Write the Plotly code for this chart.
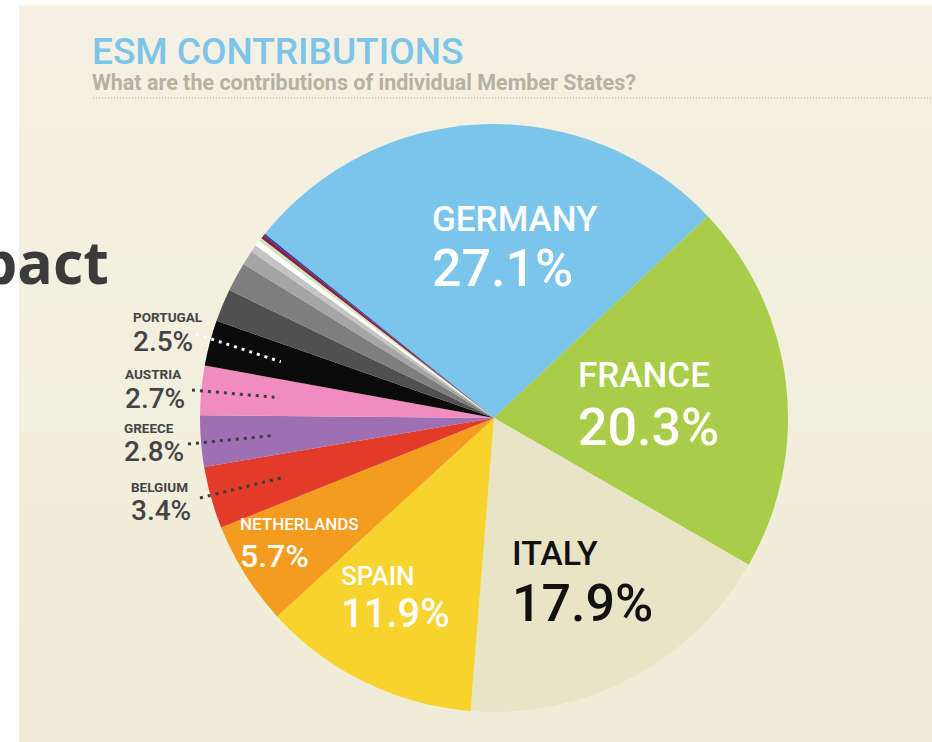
import math
import plotly.graph_objects as go

# ---------------- data ----------------
countries = ["Germany", "France", "Italy", "Spain", "Netherlands", "Belgium",
             "Greece", "Austria", "Portugal", "Finland", "Ireland", "Slovakia",
             "Slovenia", "Luxembourg", "Cyprus", "Estonia", "Malta"]
shares = [27.1, 20.3, 17.9, 11.9, 5.7, 3.4, 2.8, 2.7, 2.5, 1.8, 1.6, 0.8,
          0.4, 0.3, 0.2, 0.2, 0.1]
slice_colors = ["#7bc4ea", "#a9cd48", "#e8e4c6", "#f7d32d", "#f39c20", "#e23b2a",
                "#9f6fb3", "#f18cc1", "#0b0b0b", "#505050", "#7e7e7e", "#a5a5a5",
                "#c4c4c4", "#ffffff", "#cfe7b0", "#8a1c4e", "#2c3f90"]

title_text = "ESM CONTRIBUTIONS"
subtitle_text = "What are the contributions of individual Member States?"
backdrop_text = "pact"

# ---------------- geometry / styles ----------------
W, H = 932, 742
CX, CY, R = 494, 418, 294
ROT = -51.2


def px(x):
    return x / W


def py(y):
    return 1 - y / H


fig = go.Figure()
fig.add_trace(go.Pie(
    labels=countries, values=shares, sort=False, direction="clockwise",
    rotation=ROT, marker=dict(colors=slice_colors, line=dict(width=0)),
    textinfo="none", hoverinfo="label+percent", showlegend=False,
    domain=dict(x=[px(CX - R), px(CX + R)], y=[py(CY + R), py(CY - R)]),
))

shapes = []
# beige panel with subtle vertical gradient
top_col = (244, 241, 228)
bot_col = (239, 237, 215)
nb = 12
for i in range(nb):
    t = i / (nb - 1)
    c = tuple(round(top_col[k] + (bot_col[k] - top_col[k]) * t) for k in range(3))
    y0 = 5 + (H - 5) * i / nb
    y1 = 5 + (H - 5) * (i + 1) / nb + 1
    shapes.append(dict(type="rect", xref="paper", yref="paper", layer="below",
                       x0=px(19), x1=1, y0=py(min(y1, H)), y1=py(y0),
                       fillcolor="rgb(%d,%d,%d)" % c, line=dict(width=0)))
# dotted rule under subtitle
shapes.append(dict(type="line", xref="paper", yref="paper", x0=px(93), x1=1,
                   y0=py(98), y1=py(98),
                   line=dict(color="#a9a595", width=1.2, dash="1px,2px")))

annotations = []
# backdrop word of the slide
annotations.append(dict(text=backdrop_text, xref="paper", yref="paper",
                        x=px(111), y=py(261), xanchor="right", yanchor="middle",
                        showarrow=False,
                        font=dict(family="Open Sans", size=59, color="#3b3b3b", weight="bold")))
annotations.append(dict(text=title_text, xref="paper", yref="paper",
                        x=px(90), y=py(51), xanchor="left", yanchor="middle",
                        showarrow=False,
                        font=dict(family="Roboto", size=37, color="#7cc4e8", weight=500)))
annotations.append(dict(text=subtitle_text, xref="paper", yref="paper",
                        x=px(90), y=py(82), xanchor="left", yanchor="middle",
                        showarrow=False,
                        font=dict(family="Roboto", size=21.5, color="#b6b2a2", weight="bold")))

# inside labels: (left x, name y, value y, name size, value size, colour)
inside = {
    "Germany": (430, 219, 268, 35, 52, "#ffffff"),
    "France": (576, 376, 427, 35, 52, "#ffffff"),
    "Italy": (510, 553, 603, 34, 52, "#111111"),
    "Spain": (339, 576, 613, 26, 40, "#ffffff"),
    "Netherlands": (238, 524, 556, 17, 32, "#ffffff"),
}
# outside labels: (left x, name y, value y, dot end x, dot end y, dot colour)
outside = {
    "Portugal": (131, 317, 341, 196, 334, "#ffffff"),
    "Austria": (123, 374, 398, 192, 390, "#3d3d3d"),
    "Greece": (122, 428, 452, 188, 444, "#3d3d3d"),
    "Belgium": (129, 487, 510, 200, 498, "#3d3d3d"),
}

total = sum(shares)
cum = 0.0
for name, val in zip(countries, shares):
    mid = ROT + (cum + val / 2) / total * 360.0
    cum += val
    vtxt = "%.1f%%" % val
    if name in inside:
        x, yn, yv, sn, sv, col = inside[name]
        annotations.append(dict(text=name.upper(), xref="paper", yref="paper",
                                x=px(x), y=py(yn), xanchor="left", yanchor="middle",
                                showarrow=False,
                                font=dict(family="Roboto", size=sn, color=col, weight=500)))
        annotations.append(dict(text=vtxt, xref="paper", yref="paper",
                                x=px(x), y=py(yv), xanchor="left", yanchor="middle",
                                showarrow=False,
                                font=dict(family="Roboto", size=sv, color=col, weight=500)))
    elif name in outside:
        x, yn, yv, ex, ey, dcol = outside[name]
        annotations.append(dict(text=name.upper(), xref="paper", yref="paper",
                                x=px(x), y=py(yn), xanchor="left", yanchor="middle",
                                showarrow=False,
                                font=dict(family="Roboto", size=13.5, color="#444444",
                                          weight="bold")))
        annotations.append(dict(text=vtxt, xref="paper", yref="paper",
                                x=px(x), y=py(yv), xanchor="left", yanchor="middle",
                                showarrow=False,
                                font=dict(family="Roboto", size=28, color="#444444",
                                          weight=500)))
        a = math.radians(mid)
        ix = CX + 0.75 * R * math.sin(a)
        iy = CY - 0.75 * R * math.cos(a)
        shapes.append(dict(type="line", xref="paper", yref="paper", layer="above",
                           x0=px(ex), y0=py(ey), x1=px(ix), y1=py(iy),
                           line=dict(color=dcol, width=3, dash="3px,5px")))

fig.update_layout(
    width=W, height=H, autosize=False,
    margin=dict(l=0, r=0, t=0, b=0),
    paper_bgcolor="#ffffff", plot_bgcolor="#ffffff",
    shapes=shapes, annotations=annotations,
)

fig.write_html("out.html", config={"displayModeBar": False},
               post_script="document.body.style.margin='0';document.body.style.overflow='hidden';")
